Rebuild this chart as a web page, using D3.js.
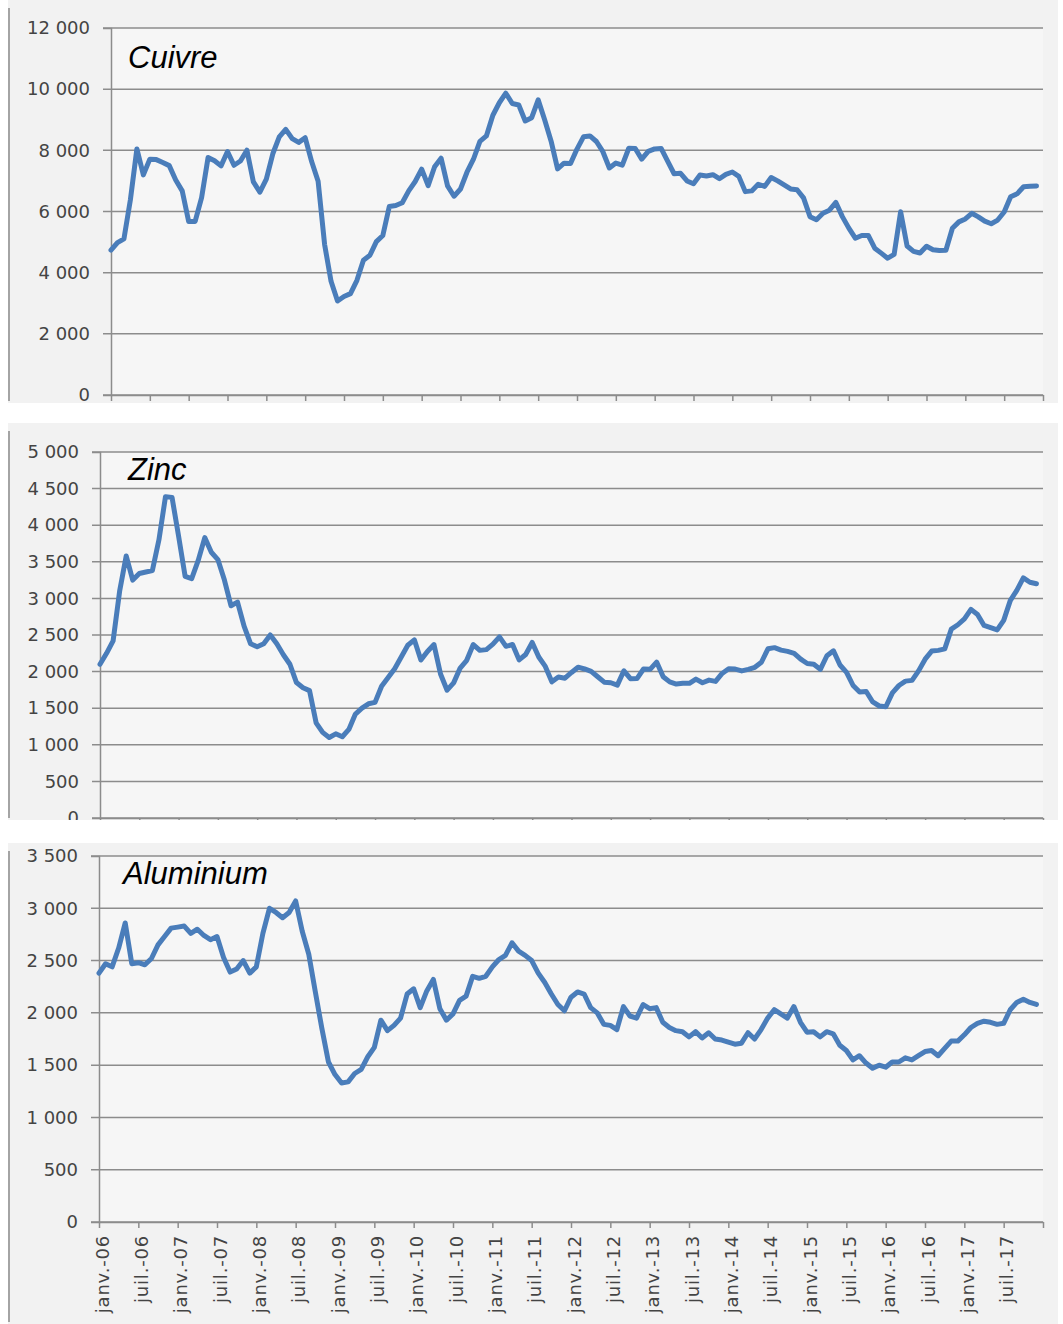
<!DOCTYPE html>
<html>
<head>
<meta charset="utf-8">
<script src="https://cdn.jsdelivr.net/npm/d3@7"></script>
<style>
  body { margin: 0; background: #fff; }
  svg { display: block; }
  .tick text { font-family: "DejaVu Sans", sans-serif; fill: #444; }
  .title { font-family: "Liberation Sans", Arial, sans-serif; font-style: italic; font-size: 31px; fill: #000; }
</style>
</head>
<body>
<svg id="chart" width="1063" height="1324"></svg>
<script>
// monthly prices, janv. 2006 - déc. 2017 (USD / t)
var cuivre = [
  4734, 4982, 5103, 6387, 8046, 7196, 7711, 7697, 7602, 7500, 7029, 6675,
  5670, 5676, 6452, 7766, 7657, 7491, 7960, 7511, 7651, 8005, 6966, 6633,
  7061, 7888, 8439, 8685, 8383, 8260, 8414, 7633, 6991, 4926, 3717, 3072,
  3221, 3315, 3750, 4407, 4569, 5014, 5216, 6165, 6196, 6288, 6676, 6982,
  7386, 6848, 7463, 7745, 6838, 6499, 6735, 7284, 7709, 8292, 8470, 9147,
  9556, 9868, 9530, 9483, 8960, 9067, 9650, 9001, 8300, 7394, 7581, 7566,
  8041, 8441, 8471, 8289, 7955, 7423, 7584, 7516, 8068, 8062, 7711, 7966,
  8047, 8061, 7646, 7234, 7249, 7000, 6907, 7193, 7160, 7203, 7071, 7215,
  7291, 7149, 6650, 6674, 6891, 6821, 7113, 7002, 6872, 6737, 6713, 6446,
  5831, 5729, 5940, 6042, 6295, 5833, 5457, 5127, 5217, 5216, 4800, 4639,
  4472, 4599, 5990, 4873, 4695, 4642, 4864, 4751, 4722, 4731, 5450, 5660,
  5755, 5941, 5825, 5684, 5600, 5720, 5985, 6485, 6578, 6810, 6825, 6834
];
var zinc = [
  2100, 2250, 2420, 3100, 3580, 3250, 3340, 3360, 3380, 3800, 4390, 4380,
  3850, 3300, 3270, 3520, 3830, 3630, 3530, 3250, 2900, 2950, 2620, 2380,
  2340, 2380, 2500, 2380, 2230, 2100, 1850, 1780, 1740, 1300, 1170, 1100,
  1150, 1110, 1210, 1420, 1500, 1560, 1580, 1800, 1920, 2040, 2200, 2360,
  2434, 2158, 2276, 2369, 1968, 1746, 1846, 2049, 2154, 2370, 2290, 2300,
  2375, 2474, 2345, 2370, 2160, 2234, 2398, 2199, 2071, 1860, 1925, 1910,
  1988, 2060, 2036, 2003, 1929, 1856, 1848, 1815, 2011, 1904, 1905, 2036,
  2031, 2130, 1930, 1860, 1830, 1840, 1840, 1897, 1848, 1884, 1866, 1975,
  2038, 2035, 2009, 2030, 2059, 2128, 2311, 2327, 2294, 2276, 2250, 2170,
  2110, 2100, 2030, 2216, 2284, 2090, 1990, 1810, 1720, 1728, 1585, 1530,
  1520, 1710, 1810, 1870, 1880, 2010, 2170, 2280, 2290, 2310, 2580, 2640,
  2720, 2850, 2780, 2630, 2600, 2570, 2700, 2970, 3110, 3280, 3220, 3200
];
var aluminium = [
  2380, 2470, 2440, 2620, 2860, 2470, 2480, 2460, 2520, 2650, 2730, 2810,
  2820, 2830, 2760, 2800, 2740, 2700, 2730, 2530, 2390, 2420, 2500, 2380,
  2440, 2760, 3000, 2960, 2910, 2960, 3070, 2780, 2560, 2200, 1850, 1530,
  1410, 1330, 1340, 1420, 1460, 1580, 1670, 1930, 1830, 1880, 1950, 2180,
  2230, 2050, 2210, 2320, 2040, 1930, 1990, 2120, 2160, 2350, 2330, 2350,
  2440, 2510, 2550, 2670, 2590, 2550, 2500, 2380, 2290, 2180, 2080, 2020,
  2150, 2200, 2180, 2050, 2000, 1890, 1880, 1840, 2060, 1970, 1950, 2080,
  2040, 2050, 1910, 1860, 1830, 1820, 1770, 1820, 1760, 1810, 1750, 1740,
  1720, 1700, 1710, 1810, 1750, 1840, 1950, 2030, 1990, 1950, 2060, 1910,
  1815, 1820, 1770, 1820, 1800, 1690, 1640, 1550, 1590, 1520, 1470, 1500,
  1480, 1530, 1530, 1570, 1550, 1590, 1630, 1640, 1590, 1660, 1730, 1730,
  1790, 1860, 1900, 1920, 1910, 1890, 1900, 2030, 2100, 2130, 2100, 2080
];
var tickLabels = [
  "janv.-06", "juil.-06", "janv.-07", "juil.-07", "janv.-08", "juil.-08",
  "janv.-09", "juil.-09", "janv.-10", "juil.-10", "janv.-11", "juil.-11",
  "janv.-12", "juil.-12", "janv.-13", "juil.-13", "janv.-14", "juil.-14",
  "janv.-15", "juil.-15", "janv.-16", "juil.-16", "janv.-17", "juil.-17"
];
var cuivreTicks = [0, 2000, 4000, 6000, 8000, 10000, 12000];
var zincTicks = [0, 500, 1000, 1500, 2000, 2500, 3000, 3500, 4000, 4500, 5000];
var aluTicks = [0, 500, 1000, 1500, 2000, 2500, 3000, 3500];

var fr = d3.formatLocale({decimal: ",", thousands: "\u00a0", grouping: [3], currency: ["", ""]});
var fmt = fr.format(",d");

var svg = d3.select("#chart");
var right = 1043;

var panels = [
  {name: "Cuivre", data: cuivre, ticks: cuivreTicks, top: 0, bottom: 403,
   left: 111, yTop: 28, yZero: 395, tx: 128, ty: 68, labels: false},
  {name: "Zinc", data: zinc, ticks: zincTicks, top: 423, bottom: 820,
   left: 100, yTop: 452, yZero: 818, tx: 128, ty: 480, labels: false},
  {name: "Aluminium", data: aluminium, ticks: aluTicks, top: 843, bottom: 1324,
   left: 99, yTop: 856, yZero: 1222, tx: 123, ty: 884, labels: true}
];

panels.forEach(function (p, k) {
  var clipId = "clip" + k;
  svg.append("clipPath").attr("id", clipId)
    .append("rect")
      .attr("x", 0).attr("y", p.top)
      .attr("width", 1063).attr("height", p.bottom - p.top);

  var g = svg.append("g").attr("clip-path", "url(#" + clipId + ")");

  // panel background
  g.append("rect")
    .attr("x", 8).attr("y", p.top)
    .attr("width", 1050).attr("height", p.bottom - p.top)
    .attr("fill", "#f2f2f2");
  g.append("rect")
    .attr("x", p.left).attr("y", p.yTop)
    .attr("width", right - p.left).attr("height", p.yZero - p.yTop)
    .attr("fill", "#f6f6f6");
  g.append("line")
    .attr("x1", 9).attr("x2", 9)
    .attr("y1", p.top + 8).attr("y2", p.bottom - 2)
    .attr("stroke", "#8a8a8a").attr("stroke-width", 1.5);

  var x = d3.scaleLinear().domain([0, 144]).range([p.left, right]);
  var y = d3.scaleLinear().domain([0, d3.max(p.ticks)]).range([p.yZero, p.yTop]);

  // gridlines
  g.append("g").selectAll("line")
    .data(p.ticks)
    .enter().append("line")
      .attr("x1", p.left - 8).attr("x2", right)
      .attr("y1", function (d) { return y(d); })
      .attr("y2", function (d) { return y(d); })
      .attr("stroke", "#8c8c8c").attr("stroke-width", 1.5);

  // y axis
  var ya = g.append("g")
    .attr("transform", "translate(" + p.left + ",0)")
    .call(d3.axisLeft(y).tickValues(p.ticks).tickFormat(fmt)
      .tickSize(8).tickPadding(13));
  ya.select(".domain").attr("stroke", "#8c8c8c").attr("stroke-width", 1.5);
  ya.selectAll(".tick line").attr("stroke", "none");
  ya.selectAll(".tick text").attr("font-size", 18).attr("fill", "#444");

  // x axis
  var xa = g.append("g")
    .attr("transform", "translate(0," + p.yZero + ")")
    .call(d3.axisBottom(x).tickValues(d3.range(0, 145, 6))
      .tickSizeInner(6).tickSizeOuter(0)
      .tickFormat(function (i) {
        return (p.labels && i < 144) ? tickLabels[i / 6] : "";
      }));
  xa.select(".domain").attr("stroke", "#8c8c8c").attr("stroke-width", 1.5);
  xa.selectAll(".tick line").attr("stroke", "#8c8c8c").attr("stroke-width", 1.5);
  xa.selectAll(".tick text")
    .attr("font-size", 18).attr("fill", "#4a4a4a")
    .attr("letter-spacing", "0.8px")
    .attr("text-anchor", "end")
    .attr("transform", "rotate(-90)")
    .attr("x", -13).attr("y", 3).attr("dy", "0.35em");

  // series
  var line = d3.line()
    .x(function (d, i) { return x(i); })
    .y(function (d) { return y(d); });
  g.append("path")
    .datum(p.data)
    .attr("d", line)
    .attr("fill", "none")
    .attr("stroke", "#4a7dba")
    .attr("stroke-width", 5)
    .attr("stroke-linejoin", "round")
    .attr("stroke-linecap", "round");

  g.append("text")
    .attr("class", "title")
    .attr("x", p.tx).attr("y", p.ty)
    .text(p.name);
});
</script>
</body>
</html>
